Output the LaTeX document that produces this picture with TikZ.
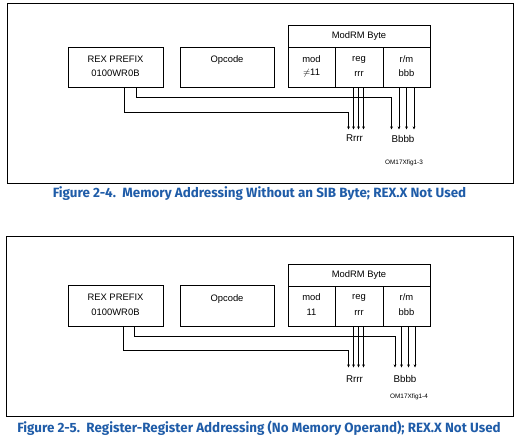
\documentclass[tikz,border=0pt]{standalone}
\usepackage{fontspec}
\setmainfont{Liberation Sans}
\newfontfamily\capfont{Fira Sans}
\usetikzlibrary{arrows.meta}
\definecolor{capblue}{HTML}{1F5CA8}
\tikzset{
  box/.style={draw, line width=0.9pt, inner sep=0pt, rectangle},
  frame/.style={draw, line width=1pt},
  txt/.style={inner sep=0pt, font=\fontsize{9.4}{10}\selectfont},
  big/.style={inner sep=0pt, font=\fontsize{9.8}{10}\selectfont},
  tiny/.style={inner sep=0pt, font=\fontsize{6.4}{7}\selectfont},
  conn/.style={line width=0.8pt},
  arr/.style={line width=0.8pt, -{Stealth[length=3.2pt,width=2.8pt]}},
  caption/.style={inner sep=0pt, text=capblue, font=\capfont\bfseries\fontsize{13.4}{14}\selectfont}
}
\begin{document}
\begin{tikzpicture}[x=1pt,y=-1pt]
\useasboundingbox (0,0) rectangle (521,440);
% ---------- Figure 2-4 ----------
\draw[frame] (7,3) rectangle (513,183);
\node[box, minimum width=95pt, minimum height=40pt] (rexA) at (115.5,67) {};
\node[box, minimum width=94pt, minimum height=40pt] (opA) at (227,67) {};
\node[box, minimum width=142pt, minimum height=22pt] (hdrA) at (359,36) {};
\node[box, minimum width=47pt, minimum height=40pt] (modA) at (311.5,67) {};
\node[box, minimum width=48pt, minimum height=40pt] (regA) at (359,67) {};
\node[box, minimum width=47pt, minimum height=40pt] (rmA) at (406.5,67) {};
\node[txt] at (115.5,59.5) {REX PREFIX};
\node[txt] at (115.5,73.5) {0100WR0B};
\node[txt] at (227,60.5) {Opcode};
\node[txt] at (359,36.5) {ModRM Byte};
\node[txt] at (311.5,59.5) {mod};
\node[txt] at (311.5,73.5) {$\neq$11};
\node[txt] at (359,59.5) {reg};
\node[txt] at (359,73.5) {rrr};
\node[txt] at (406.5,59.5) {r/m};
\node[txt] at (406.5,73.5) {bbb};
% arrow ends
\coordinate (Ar0) at (348.5,129.5);
\coordinate (Ar1) at (353.5,129.5);
\coordinate (Ar2) at (358.5,129.5);
\coordinate (Ar3) at (363.5,129.5);
\coordinate (Ab0) at (391.5,129.5);
\coordinate (Ab1) at (399,129.5);
\coordinate (Ab2) at (406.5,129.5);
\coordinate (Ab3) at (414,129.5);
\draw[arr] ([xshift=57pt]rexA.south west) |- (348.5,112) -- (Ar0);
\draw[arr] ([xshift=69pt]rexA.south west) |- (391.5,97) -- (Ab0);
\draw[arr] (regA.south -| Ar1) -- (Ar1);
\draw[arr] (regA.south -| Ar2) -- (Ar2);
\draw[arr] (regA.south -| Ar3) -- (Ar3);
\draw[arr] (rmA.south -| Ab1) -- (Ab1);
\draw[arr] (rmA.south -| Ab2) -- (Ab2);
\draw[arr] (rmA.south -| Ab3) -- (Ab3);
\node[big] (RA) at (354.5,138.5) {Rrrr};
\node[big] (BA) at (403,138.5) {Bbbb};
\node[tiny] at (404,163) {OM17Xfig1-3};
\node[caption] at (259.5,193.5) {Figure 2-4.\ \ Memory Addressing Without an SIB Byte; REX.X Not Used};
% ---------- Figure 2-5 ----------
\draw[frame] (6,236) rectangle (513,416);
\node[box, minimum width=95pt, minimum height=41pt] (rexB) at (115.5,305.5) {};
\node[box, minimum width=94pt, minimum height=41pt] (opB) at (227,305.5) {};
\node[box, minimum width=142pt, minimum height=22pt] (hdrB) at (359,275) {};
\node[box, minimum width=47pt, minimum height=40pt] (modB) at (311.5,306) {};
\node[box, minimum width=48pt, minimum height=40pt] (regB) at (359,306) {};
\node[box, minimum width=47pt, minimum height=40pt] (rmB) at (406.5,306) {};
\node[txt] at (115.5,297.5) {REX PREFIX};
\node[txt] at (115.5,312.5) {0100WR0B};
\node[txt] at (227,299.5) {Opcode};
\node[txt] at (359,275.5) {ModRM Byte};
\node[txt] at (311.5,297.5) {mod};
\node[txt] at (311.5,312.5) {11};
\node[txt] at (359,297.5) {reg};
\node[txt] at (359,312.5) {rrr};
\node[txt] at (406.5,297.5) {r/m};
\node[txt] at (406.5,312.5) {bbb};
\coordinate (Br0) at (348.5,367.5);
\coordinate (Br1) at (353.5,367.5);
\coordinate (Br2) at (358.5,367.5);
\coordinate (Br3) at (363.5,367.5);
\coordinate (Bb0) at (395,367.5);
\coordinate (Bb1) at (401.5,367.5);
\coordinate (Bb2) at (408.5,367.5);
\coordinate (Bb3) at (415,367.5);
\draw[arr] ([xshift=56pt]rexB.south west) |- (348.5,350.5) -- (Br0);
\draw[arr] ([xshift=66.5pt]rexB.south west) |- (395,336) -- (Bb0);
\draw[arr] (regB.south -| Br1) -- (Br1);
\draw[arr] (regB.south -| Br2) -- (Br2);
\draw[arr] (regB.south -| Br3) -- (Br3);
\draw[arr] (rmB.south -| Bb1) -- (Bb1);
\draw[arr] (rmB.south -| Bb2) -- (Bb2);
\draw[arr] (rmB.south -| Bb3) -- (Bb3);
\node[big] (RB) at (354.5,379) {Rrrr};
\node[big] (BB) at (405,379) {Bbbb};
\node[tiny] at (409,397) {OM17Xfig1-4};
\node[caption] at (259,428.5) {Figure 2-5.\ \ Register-Register Addressing (No Memory Operand); REX.X Not Used};
\end{tikzpicture}
\end{document}
